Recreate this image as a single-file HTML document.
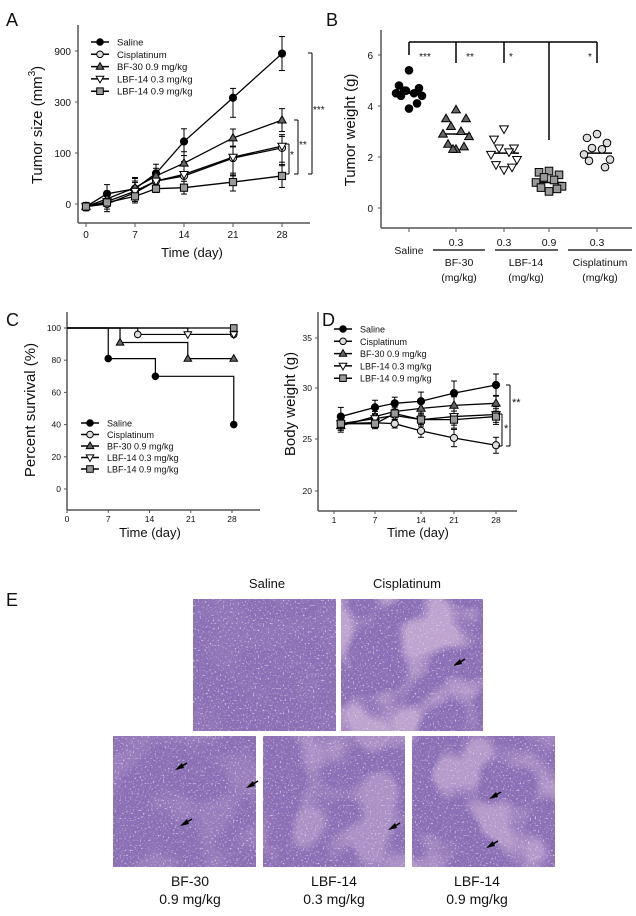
<!DOCTYPE html>
<html><head><meta charset="utf-8"><style>
body{margin:0;background:#fff}
svg text{font-family:"Liberation Sans",Arial,sans-serif;fill:#111}
</style></head><body>
<svg id="fig" width="636" height="911" viewBox="0 0 636 911" xmlns="http://www.w3.org/2000/svg">
<defs>
<filter id="tissue" x="0" y="0" width="100%" height="100%">
<feTurbulence type="fractalNoise" baseFrequency="0.45" numOctaves="2" seed="3" result="n"/>
<feColorMatrix in="n" type="matrix" values="0 0 0 0 0.28  0 0 0 0 0.18  0 0 0 0 0.5  0 0 0 -3 1.9" result="c"/>
<feComposite in="c" in2="SourceGraphic" operator="over"/>
</filter>
<filter id="speck" x="0" y="0" width="100%" height="100%">
<feTurbulence type="fractalNoise" baseFrequency="0.6" numOctaves="1" seed="11" result="n"/>
<feColorMatrix in="n" type="matrix" values="0 0 0 0 0.9  0 0 0 0 0.88  0 0 0 0 0.95  0 0 0 6 -3.6"/>
</filter>
<filter id="pinkblob" x="0" y="0" width="100%" height="100%">
<feTurbulence type="fractalNoise" baseFrequency="0.02" numOctaves="2" seed="7" result="n"/>
<feColorMatrix in="n" type="matrix" values="0 0 0 0 0.8  0 0 0 0 0.62  0 0 0 0 0.78  0 0 0 -6 3.2"/>
</filter>
</defs>
<g id="panelA"></g>
<g id="panelB"></g>
<g id="panelC"></g>
<g id="panelD"></g>
<g id="panelE"></g>
</svg>
<script>
// ---------- DATA ----------
const seriesNames = ["Saline","Cisplatinum","BF-30 0.9 mg/kg","LBF-14 0.3 mg/kg","LBF-14 0.9 mg/kg"];
// Panel A
const aDays = [0,3,7,10,14,21,28];
const aSaline = [-5,20,30,60,145,350,870];
const aCis = [-5,0,22,45,55,90,120];
const aBF30 = [-5,10,32,55,80,159,229];
const aLBF03 = [-5,5,25,45,58,92,127];
const aLBF09 = [-5,3,15,30,32,43,55];
const aErrSaline = [8,18,20,18,50,110,200];
const aErrOther = [8,15,20,15,25,35,45];
const aYTicks = [0,100,300,900];
const aXTicks = [0,7,14,21,28];
// Panel B
const bGroups = ["Saline","BF-30 0.3","LBF-14 0.3","LBF-14 0.9","Cisplatinum 0.3"];
const bSaline = [5.4,4.8,4.7,4.6,4.5,4.5,4.4,4.4,4.1,3.9,4.6];
const bBF30 = [3.85,3.5,3.5,3.2,3.0,2.9,2.8,2.5,2.4,2.3,2.3];
const bLBF03 = [3.1,2.7,2.35,2.35,2.2,2.1,1.9,1.7,1.6,1.5];
const bLBF09 = [1.45,1.4,1.3,1.2,1.1,1.0,0.85,0.8,0.75,0.65];
const bCis = [2.9,2.75,2.55,2.35,2.3,2.1,1.9,1.85,1.6];
const bMedians = [4.5,2.9,2.15,1.0,2.15];
const bYTicks = [0,2,4,6];
// Panel C
const cTimesSaline=[0,7,15,28.3], cSurvSaline=[100,81,70,40];
const cTimesCis=[0,12,28.3], cSurvCis=[100,96,96];
const cTimesBF=[0,9,20.5,28.3], cSurvBF=[100,91,81,81];
const cTimesL03=[0,20.5,28.3], cSurvL03=[100,96,96];
const cTimesL09=[0,28.3], cSurvL09=[100,100];
const cYTicks=[0,20,40,60,80,100];
const cXTicks=[0,7,14,21,28];
// Panel D
const dDays=[2,7,10,14,21,28];
const dSaline=[27.2,28.1,28.5,28.7,29.5,30.3];
const dCis=[26.5,26.6,26.5,25.8,25.1,24.4];
const dBF30=[26.3,27.2,27.7,28.0,28.3,28.5];
const dLBF03=[26.5,27.0,27.3,26.9,27.2,27.4];
const dLBF09=[26.5,26.5,27.5,26.9,26.9,27.2];
const dErr=[0.9,0.7,0.6,0.9,1.2,1.1];
const dYTicks=[20,25,30,35];
const dXTicks=[1,7,14,21,28];

// ---------- HELPERS ----------
const NS="http://www.w3.org/2000/svg";
function el(tag,attrs,parent,txt){const e=document.createElementNS(NS,tag);for(const k in attrs)e.setAttribute(k,attrs[k]);if(txt!==undefined)e.textContent=txt;parent.appendChild(e);return e;}
function pw(v,vs,ps){let i=0;while(i<vs.length-2&&v>vs[i+1])i++;return ps[i]+(v-vs[i])*(ps[i+1]-ps[i])/(vs[i+1]-vs[i]);}
const styles=[{shape:"circle",fill:"#000"},{shape:"circle",fill:"#ddd"},{shape:"tri",fill:"#666"},{shape:"dtri",fill:"#fff"},{shape:"sq",fill:"#999"}];
function marker(g,x,y,st,r){
  r=r||3.6;let e;
  if(st.shape==="circle")e=el("circle",{cx:x,cy:y,r:r},g);
  else if(st.shape==="sq")e=el("rect",{x:x-r,y:y-r,width:2*r,height:2*r},g);
  else if(st.shape==="tri")e=el("polygon",{points:`${x},${y-r*1.2} ${x-r*1.15},${y+r*0.8} ${x+r*1.15},${y+r*0.8}`},g);
  else e=el("polygon",{points:`${x},${y+r*1.2} ${x-r*1.15},${y-r*0.8} ${x+r*1.15},${y-r*0.8}`},g);
  e.setAttribute("fill",st.fill);e.setAttribute("stroke","#000");e.setAttribute("stroke-width","1");
  
  
  return e;
}
function line(g,x1,y1,x2,y2,w,c){return el("line",{x1,y1,x2,y2,stroke:c||"#000","stroke-width":w||1},g);}
function txt(g,x,y,s,size,anchor,name){const t=el("text",{x,y,"font-size":size,"text-anchor":anchor||"start"},g,s);return t;}
function legend(g,x,y0,dy,size){
  seriesNames.forEach((n,i)=>{const y=y0+i*dy;const lg=el("g",{},g);
    
    
    line(lg,x-9,y,x+9,y,1.5);marker(lg,x,y,styles[i],3.3);txt(lg,x+17,y+3.5,n,size,"start","legend-label");});
}

// ---------- PANEL A ----------
(function(){
const g=document.getElementById("panelA");
const X=d=>86+d*(282-86)/28;
const Y=v=>pw(v,aYTicks,[204,153,102,51]);
txt(g,6,26,"A",18,"start","panel-letter-a");
line(g,78,25,78,223,1.5,"#555");line(g,78,223,310,223,1.5,"#555");
aYTicks.forEach(v=>{line(g,75,Y(v),78,Y(v),1,"#555");txt(g,71,Y(v)+4,String(v),10,"end","y-tick-label");});
aXTicks.forEach(d=>{line(g,X(d),223,X(d),227,1,"#555");txt(g,X(d),238,String(d),10,"middle","x-tick-label");});
txt(g,192,257,"Time (day)",13,"middle","x-axis-title");
const yt=el("text",{x:0,y:0,"font-size":15,"text-anchor":"middle",transform:"translate(42,125) rotate(-90)"},g);

yt.innerHTML='Tumor size (mm<tspan dy="-7" font-size="10">3</tspan><tspan dy="7">)</tspan>';
const data=[aSaline,aCis,aBF30,aLBF03,aLBF09];
data.forEach((s,si)=>{const sg=el("g",{},g);
  
  const err=si===0?aErrSaline:aErrOther;
  el("polyline",{points:s.map((v,i)=>X(aDays[i])+","+Y(v)).join(" "),fill:"none",stroke:"#000","stroke-width":1.3},sg);
  s.forEach((v,i)=>{const x=X(aDays[i]);const e=si===4?err[i]*0.5:err[i];
    line(sg,x,Y(v+e),x,Y(v-e),1);line(sg,x-3,Y(v+e),x+3,Y(v+e),1);line(sg,x-3,Y(v-e),x+3,Y(v-e),1);});
});
data.forEach((s,si)=>s.forEach((v,i)=>marker(g,X(aDays[i]),Y(v),styles[si],3.6)));
legend(g,100,42,12.3,9.5);
[[312,53,"***"],[298,120,"**"],[289,144,"*"]].forEach(b=>{const bg=el("g",{},g);
  
  line(bg,b[0],b[1],b[0],174,1);line(bg,b[0]-4,b[1],b[0],b[1],1);line(bg,b[0]-4,174,b[0],174,1);
  txt(bg,b[0]+1,113+ (b[2]==="***"?0:(b[2]==="**"?35:45)),b[2],10,"start","significance-stars");});
})();

// ---------- PANEL B ----------
(function(){
const g=document.getElementById("panelB");
const gx=[409,456,504,549,597];
const Y=v=>208-v*25.5;
txt(g,326,26,"B",18,"start","panel-letter-b");
line(g,381,30,381,228,1.5,"#555");line(g,381,228,632,228,1.5,"#555");
bYTicks.forEach(v=>{line(g,378,Y(v),381,Y(v),1,"#555");txt(g,373,Y(v)+4,String(v),10,"end","y-tick-label");});
gx.forEach(x=>line(g,x,228,x,232,1,"#555"));
const yt=el("text",{x:0,y:0,"font-size":15,"text-anchor":"middle",transform:"translate(355,130) rotate(-90)"},g,"Tumor weight (g)");

const sets=[bSaline,bBF30,bLBF03,bLBF09,bCis];
const st=[styles[0],styles[2],styles[3],styles[4],styles[1]];
sets.forEach((s,gi)=>{
  line(g,gx[gi]-15,Y(bMedians[gi]),gx[gi]+15,Y(bMedians[gi]),1.5);
  s.forEach((v,i)=>{const off=[0,-10,10,-5,5,-13,13,-8,8,0,-3][i%11];marker(g,gx[gi]+off,Y(v),st[gi],3.8);});
});
line(g,409,42,597,42,1.5);
[[409,55],[456,63],[504,63],[549,140],[597,63]].forEach(b=>line(g,b[0],42,b[0],b[1],1.5));
[[425,60,"***"],[470,60,"**"],[511,60,"*"],[590,60,"*"]].forEach(s=>txt(g,s[0],s[1],s[2],10,"middle","significance-stars"));
txt(g,409,254,"Saline",10.5,"middle","category-label");
[[456,"0.3"],[504,"0.3"],[549,"0.9"],[597,"0.3"]].forEach(c=>txt(g,c[0],246,c[1],10.5,"middle","dose-label"));
[[433,485],[495,558],[568,632]].forEach(l=>line(g,l[0],250,l[1],250,1.3));
[[459,"BF-30"],[526,"LBF-14"],[600,"Cisplatinum"]].forEach(c=>{txt(g,c[0],266,c[1],10.5,"middle","group-label");txt(g,c[0],281,"(mg/kg)",10.5,"middle","unit-label");});
})();

// ---------- PANEL C ----------
(function(){
const g=document.getElementById("panelC");
const X=d=>67+d*(232-67)/28;
const Y=v=>489-v*1.61;
txt(g,6,326,"C",18,"start","panel-letter-c");
line(g,67,312,67,510,1.5,"#555");line(g,67,510,260,510,1.5,"#555");
cYTicks.forEach(v=>{line(g,64,Y(v),67,Y(v),1,"#555");txt(g,61,Y(v)+3,String(v),8.5,"end","y-tick-label");});
cXTicks.forEach(d=>{line(g,X(d),510,X(d),513,1,"#555");txt(g,X(d),522,String(d),8.5,"middle","x-tick-label");});
txt(g,150,537,"Time (day)",13,"middle","x-axis-title");
const yt=el("text",{x:0,y:0,"font-size":15,"text-anchor":"middle",transform:"translate(35,410) rotate(-90)"},g,"Percent survival (%)");

const T=[cTimesSaline,cTimesCis,cTimesBF,cTimesL03,cTimesL09], S=[cSurvSaline,cSurvCis,cSurvBF,cSurvL03,cSurvL09];
T.forEach((t,si)=>{let p=[];for(let i=0;i<t.length;i++){if(i>0)p.push(X(t[i])+","+Y(S[si][i-1]));p.push(X(t[i])+","+Y(S[si][i]));}
  const pl=el("polyline",{points:p.join(" "),fill:"none",stroke:"#000","stroke-width":1.2},g);
  });
T.forEach((t,si)=>{for(let i=1;i<t.length;i++)marker(g,X(t[i]),Y(S[si][i]),styles[si],3.3);});
legend(g,90,423,11.5,9);
})();

// ---------- PANEL D ----------
(function(){
const g=document.getElementById("panelD");
const X=d=>pw(d,dXTicks,[334,375,421,454,496]);
const Y=v=>pw(v,dYTicks,[491,439,388,338]);
txt(g,322,326,"D",18,"start","panel-letter-d");
line(g,318,312,318,511,1.5,"#555");line(g,318,511,517,511,1.5,"#555");
dYTicks.forEach(v=>{line(g,315,Y(v),318,Y(v),1,"#555");txt(g,312,Y(v)+3,String(v),8.5,"end","y-tick-label");});
dXTicks.forEach(d=>{line(g,X(d),511,X(d),514,1,"#555");txt(g,X(d),523,String(d),8.5,"middle","x-tick-label");});
txt(g,418,537,"Time (day)",13,"middle","x-axis-title");
const yt=el("text",{x:0,y:0,"font-size":15,"text-anchor":"middle",transform:"translate(295,404) rotate(-90)"},g,"Body weight (g)");

const data=[dSaline,dCis,dBF30,dLBF03,dLBF09];
data.forEach((s,si)=>{const sg=el("g",{},g);
  
  el("polyline",{points:s.map((v,i)=>X(dDays[i])+","+Y(v)).join(" "),fill:"none",stroke:"#000","stroke-width":1.3},sg);
  s.forEach((v,i)=>{const x=X(dDays[i]),e=dErr[i]*(si===0?1:0.7);
    line(sg,x,Y(v+e),x,Y(v-e),1);line(sg,x-3,Y(v+e),x+3,Y(v+e),1);line(sg,x-3,Y(v-e),x+3,Y(v-e),1);});
});
data.forEach((s,si)=>s.forEach((v,i)=>marker(g,X(dDays[i]),Y(v),styles[si],3.6)));
legend(g,343,329,12.3,9);
[[510,385,"**",406],[502,414,"*",432]].forEach(b=>{line(g,b[0],b[1],b[0],446,1);line(g,b[0]-4,b[1],b[0],b[1],1);line(g,b[0]-4,446,b[0],446,1);txt(g,b[0]+2,b[3],b[2],11,"start","significance-stars");});
})();

// ---------- PANEL E ----------
(function(){
const g=document.getElementById("panelE");
txt(g,6,606,"E",18,"start","panel-letter-e");
const imgs=[[193,599,143,132,"saline-image",0.05],[341,599,142,132,"cisplatinum-image",0.55],[113,736,143,131,"bf30-image",0.15],[263,736,142,131,"lbf14-03-image",0.35],[412,736,143,131,"lbf14-09-image",0.45]];
imgs.forEach((m,i)=>{const ig=el("g",{},g);
  
  el("rect",{x:m[0],y:m[1],width:m[2],height:m[3],fill:"#8a6db2"},ig);
  el("rect",{x:m[0],y:m[1],width:m[2],height:m[3],fill:"#8a6db2",filter:"url(#tissue)"},ig);
  el("rect",{x:m[0],y:m[1],width:m[2],height:m[3],fill:"#fff",filter:"url(#speck)",opacity:0.7},ig);
  el("rect",{x:m[0],y:m[1],width:m[2],height:m[3],fill:"#fff",filter:"url(#pinkblob)",opacity:m[5]},ig);
});
const arrows=[[455,665],[177,769],[248,787],[182,825],[390,829],[491,798],[488,847]];
arrows.forEach(a=>{const ag=el("g",{},g);
  
  line(ag,a[0],a[1],a[0]+10,a[1]-6,1.5);
  el("polygon",{points:`${a[0]-2},${a[1]+1} ${a[0]+5},${a[1]-6} ${a[0]+7},${a[1]-1}`,fill:"#000"},ag);});
txt(g,267,588,"Saline",13,"middle","image-label");
txt(g,407,588,"Cisplatinum",13,"middle","image-label");
[[190,"BF-30","0.9 mg/kg"],[334,"LBF-14","0.3 mg/kg"],[477,"LBF-14","0.9 mg/kg"]].forEach(l=>{txt(g,l[0],886,l[1],14,"middle","image-label");txt(g,l[0],904,l[2],14,"middle","image-label");});
})();
</script>
</body></html>
